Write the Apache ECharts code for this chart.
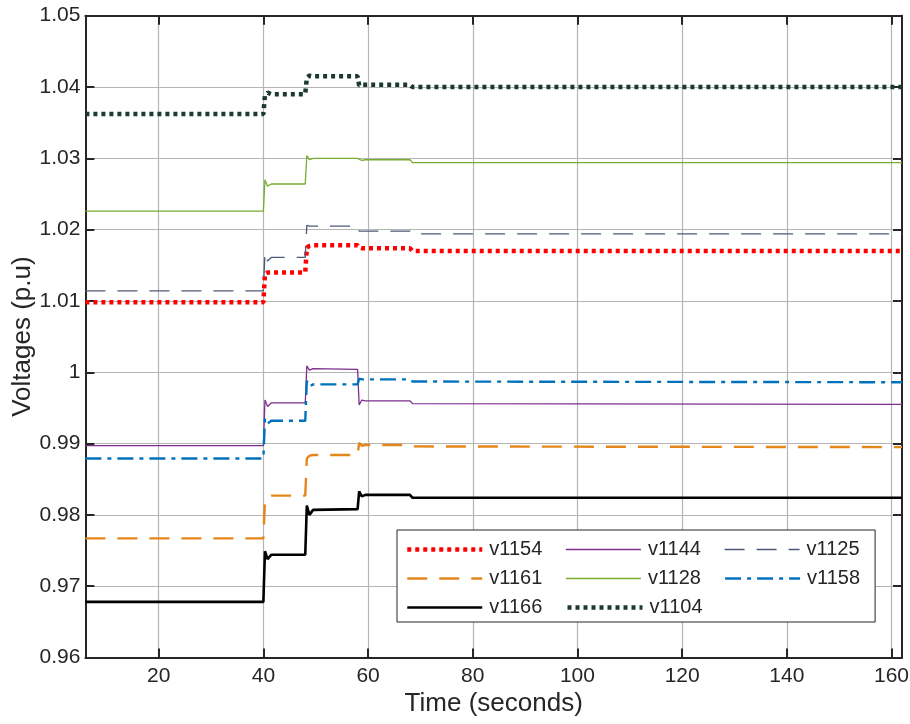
<!DOCTYPE html>
<html>
<head>
<meta charset="utf-8">
<script src="https://cdn.jsdelivr.net/npm/echarts@6/dist/echarts.min.js"></script>
<style>html,body{margin:0;padding:0;background:#fff}#c{width:910px;height:724px}</style>
</head>
<body>
<div id="c"></div>
<script>
// time samples (seconds)
const t = [6, 40, 40.3, 40.8, 41.5, 48, 48.3, 48.8, 49.5, 58, 58.3, 58.8, 59.5, 68, 68.5, 162];
// bus voltages (p.u)
const v1154 = [1.0098, 1.0098, 1.0138, 1.0140, 1.0140, 1.0140, 1.0175, 1.0177, 1.0178, 1.0178, 1.0175, 1.0174, 1.0174, 1.0174, 1.0170, 1.0170];
const v1144 = [0.9897, 0.9897, 0.9961, 0.9952, 0.9957, 0.9957, 1.0009, 1.0003, 1.0005, 1.0004, 0.9954, 0.9961, 0.9960, 0.9960, 0.9956, 0.9955];
const v1125 = [1.0114, 1.0114, 1.0168, 1.0156, 1.0161, 1.0161, 1.0206, 1.0205, 1.0205, 1.0205, 1.0198, 1.0198, 1.0198, 1.0198, 1.0194, 1.0194];
const v1161 = [0.9767, 0.9767, 0.9820, 0.9825, 0.9827, 0.9827, 0.9879, 0.9883, 0.9884, 0.9884, 0.9901, 0.9897, 0.9898, 0.9898, 0.9896, 0.9895];
const v1128 = [1.0226, 1.0226, 1.0270, 1.0261, 1.0264, 1.0264, 1.0304, 1.0298, 1.0300, 1.0300, 1.0298, 1.0297, 1.0298, 1.0298, 1.0294, 1.0294];
const v1158 = [0.9879, 0.9879, 0.9935, 0.9928, 0.9932, 0.9932, 0.9988, 0.9980, 0.9983, 0.9983, 0.9991, 0.9990, 0.9990, 0.9990, 0.9987, 0.9986];
const v1166 = [0.9678, 0.9678, 0.9749, 0.9738, 0.9744, 0.9744, 0.9813, 0.9800, 0.9807, 0.9808, 0.9833, 0.9826, 0.9828, 0.9828, 0.9824, 0.9824];
const v1104 = [1.0362, 1.0362, 1.0388, 1.0392, 1.0390, 1.0390, 1.0413, 1.0416, 1.0415, 1.0415, 1.0402, 1.0403, 1.0403, 1.0403, 1.0400, 1.0400];
const xTicks = [20, 40, 60, 80, 100, 120, 140, 160];
const seriesNames = ['v1154', 'v1144', 'v1125', 'v1161', 'v1128', 'v1158', 'v1166', 'v1104'];
const seriesValues = [v1154, v1144, v1125, v1161, v1128, v1158, v1166, v1104];

const styles = {
  v1154: {color: '#ff0000', width: 4.5, type: [4, 4]},
  v1144: {color: '#7e2f8e', width: 1.3, type: 'solid'},
  v1125: {color: '#4c5a78', width: 1.3, type: [20, 12]},
  v1161: {color: '#e3861b', width: 2.4, type: [20, 12]},
  v1128: {color: '#77ac30', width: 1.3, type: 'solid'},
  v1158: {color: '#0072bd', width: 2.4, type: [16, 6, 4, 6]},
  v1166: {color: '#000000', width: 2.6, type: 'solid'},
  v1104: {color: '#1b3a2b', width: 4.5, type: [4, 4]}
};

const FONT = "Arial, 'Liberation Sans', Helvetica, sans-serif";
const dark = '#262626';

const series = seriesNames.map((n, k) => ({
  name: n,
  type: 'line',
  symbol: 'none',
  showSymbol: false,
  xAxisIndex: 0,
  yAxisIndex: 0,
  lineStyle: styles[n],
  itemStyle: {color: styles[n].color},
  data: t.map((x, i) => [x, seriesValues[k][i]]),
  z: 3
}));

const chart = echarts.init(document.getElementById('c'), null, {renderer: 'canvas'});
chart.setOption({
  animation: false,
  backgroundColor: '#ffffff',
  textStyle: {fontFamily: FONT},
  grid: {left: 85.4, right: 8, top: 15.7, bottom: 66.5, containLabel: false, outerBoundsMode: 'none'},
  legend: {
    left: 397,
    top: 530,
    width: 470,
    orient: 'horizontal',
    itemWidth: 75,
    itemHeight: 14,
    itemGap: 8,
    padding: [9, 0, 4, 8],
    backgroundColor: '#ffffff',
    borderColor: dark,
    borderWidth: 1,
    borderRadius: 0,
    lineStyle: {width: 'inherit', type: 'inherit'},
    textStyle: {fontFamily: FONT, fontSize: 20, color: dark, width: 68, lineHeight: 21, padding: [0, 0, 0, 2]},
    data: seriesNames.map(n => ({
      name: n,
      itemStyle: {opacity: 0},
      lineStyle: {color: styles[n].color, width: styles[n].width, type: styles[n].type, opacity: 1}
    }))
  },
  xAxis: [{
    type: 'value',
    min: 6,
    max: 162,
    position: 'bottom',
    name: 'Time (seconds)',
    nameLocation: 'middle',
    nameGap: 33,
    nameMoveOverlap: false,
    nameTextStyle: {fontFamily: FONT, fontSize: 26, color: dark},
    axisLine: {show: true, onZero: false, lineStyle: {color: dark, width: 2}},
    axisTick: {show: true, inside: true, length: 9, customValues: xTicks, lineStyle: {color: dark, width: 2}},
    axisLabel: {show: true, customValues: xTicks, margin: 8, fontFamily: FONT, fontSize: 21, color: dark},
    splitLine: {show: true, lineStyle: {color: '#b5b5b5', width: 1.2}}
  }, {
    type: 'value',
    min: 6,
    max: 162,
    position: 'top',
    axisLine: {show: true, onZero: false, lineStyle: {color: dark, width: 2}},
    axisTick: {show: true, inside: true, length: 9, customValues: xTicks, lineStyle: {color: dark, width: 2}},
    axisLabel: {show: false},
    splitLine: {show: false}
  }],
  yAxis: [{
    type: 'value',
    min: 0.96,
    max: 1.05,
    interval: 0.01,
    position: 'left',
    name: 'Voltages (p.u)',
    nameLocation: 'middle',
    nameGap: 50,
    nameMoveOverlap: false,
    nameTextStyle: {fontFamily: FONT, fontSize: 26, color: dark},
    axisLine: {show: true, onZero: false, lineStyle: {color: dark, width: 2}},
    axisTick: {show: true, inside: true, length: 9, lineStyle: {color: dark, width: 2}},
    axisLabel: {show: true, margin: 5, fontFamily: FONT, fontSize: 21, color: dark,
      formatter: v => String(parseFloat(v.toFixed(2)))},
    splitLine: {show: true, lineStyle: {color: '#b5b5b5', width: 1.2}}
  }, {
    type: 'value',
    min: 0.96,
    max: 1.05,
    interval: 0.01,
    position: 'right',
    axisLine: {show: true, onZero: false, lineStyle: {color: dark, width: 2}},
    axisTick: {show: true, inside: true, length: 9, lineStyle: {color: dark, width: 2}},
    axisLabel: {show: false},
    splitLine: {show: false}
  }],
  series: series
});
</script>
</body>
</html>
